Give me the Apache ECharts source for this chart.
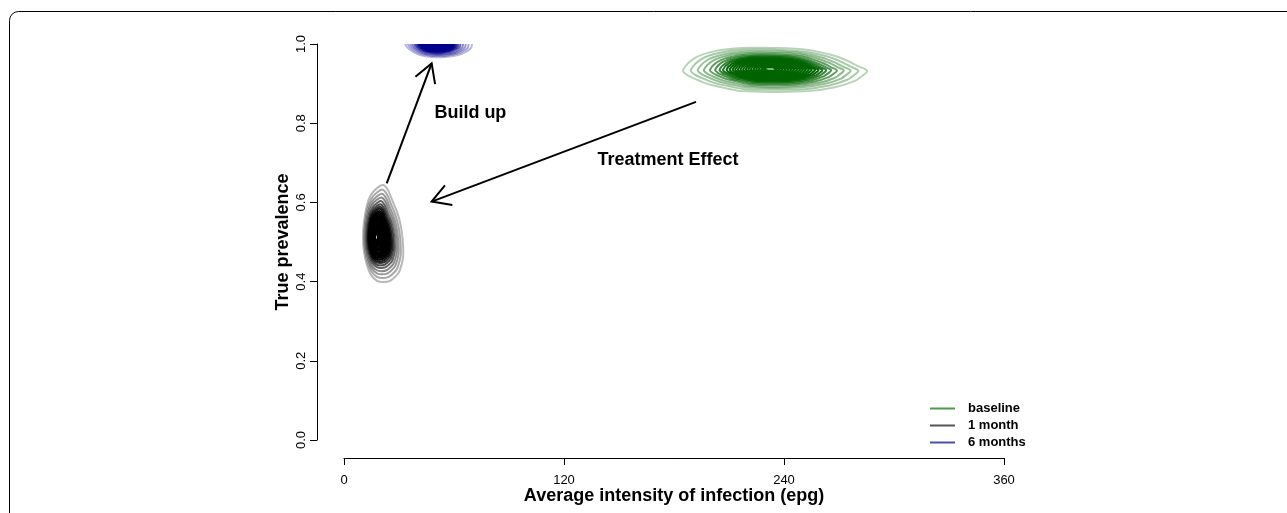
<!DOCTYPE html>
<html><head><meta charset="utf-8">
<script src="https://cdn.jsdelivr.net/npm/echarts@6/dist/echarts.min.js"></script>
<style>html,body{margin:0;padding:0;background:#fff}#c{width:1287px;height:513px}</style>
</head><body><div id="c"></div>
<script>
// ---- data ----
const xTicks = [0, 120, 240, 360];
const yTicks = [0, 0.2, 0.4, 0.6, 0.8, 1.0];
const groupNames = ['baseline', '1 month', '6 months'];
const groupColors = ['#006400', '#000000', '#00008b'];
const legendColors = ['#4d9a4d', '#555555', '#4c4cb0'];

// outermost contour of each density, and its mode
const baselineCenter = [232.4, 0.937];
const baselineOutline = [[184.9,0.934],[191.5,0.965],[202.4,0.982],[217.1,0.990],[235.1,0.990],[253.1,0.985],[266.2,0.972],[274.9,0.957],[280.4,0.944],[285.3,0.932],[282.5,0.919],[278.7,0.907],[267.8,0.891],[253.1,0.881],[235.1,0.879],[217.1,0.881],[207.8,0.889],[198.5,0.899],[191.5,0.912],[187.1,0.922]];
const month1Center = [17.5, 0.513];
const month1Outline = [[21.4,0.644],[24.0,0.631],[26.7,0.601],[28.9,0.576],[30.5,0.551],[31.6,0.523],[32.2,0.492],[32.2,0.460],[30.5,0.429],[28.9,0.417],[25.1,0.402],[21.3,0.399],[18.0,0.402],[14.7,0.417],[12.5,0.442],[10.9,0.475],[10.4,0.510],[10.9,0.551],[12.5,0.593],[14.7,0.619],[18.0,0.636]];
const month6Center = [49.6, 1.0];
const month6Outline = [[33.3,1.002],[34.4,0.992],[37.1,0.982],[41.5,0.972],[48.0,0.967],[55.1,0.967],[62.2,0.972],[66.5,0.980],[69.3,0.990],[69.8,1.0],[69.8,1.015],[52.4,1.02],[33.3,1.015]];
// relative size of each contour level (outer -> inner)
const levelScale = [1.0,0.91,0.83,0.76,0.69,0.63,0.58,0.54,0.50,0.465,0.43,0.40,0.37,0.34,0.31,0.28,0.25,0.22,0.19,0.16,0.13,0.10,0.07];

// arrows and annotation text
const arrowFrom = [[23.3,0.648],[192.0,0.854]];
const arrowTo = [[47.8,0.951],[47.8,0.602]];
const noteText = ['Build up', 'Treatment Effect'];
const notePos = [[49.3,0.825],[138.3,0.707]];

const FONT = '"Liberation Sans", Arial, Helvetica, sans-serif';

function hexToRgba(hex, a) {
  const n = parseInt(hex.slice(1), 16);
  return 'rgba(' + ((n >> 16) & 255) + ',' + ((n >> 8) & 255) + ',' + (n & 255) + ',' + a.toFixed(3) + ')';
}

function contourSeries(center, outline, color) {
  return {
    type: 'custom', coordinateSystem: 'cartesian2d', clip: true, silent: true,
    data: levelScale.map((s, i) => [center[0], center[1], s, i]),
    encode: { x: 0, y: 1 },
    renderItem: function (params, api) {
      const s = api.value(2), i = api.value(3);
      const pts = outline.map(p => api.coord([center[0] + s * (p[0] - center[0]), center[1] + s * (p[1] - center[1])]));
      const a = i < 4 ? 0.28 + 0.06 * i : Math.min(1, 0.62 + 0.09 * (i - 4));
      return { type: 'polygon', shape: { points: pts, smooth: 0.35 },
        style: { fill: 'none', stroke: hexToRgba(color, a), lineWidth: 2 } };
    }
  };
}

const chart = echarts.init(document.getElementById('c'), null, { renderer: 'canvas' });
const option = {
  animation: false,
  backgroundColor: '#fff',
  grid: { left: 344, right: 283, top: 44, bottom: 73, containLabel: false, outerBoundsMode: 'none' },
  xAxis: {
    type: 'value', min: xTicks[0], max: xTicks[xTicks.length - 1], interval: 120, offset: 18,
    axisLine: { show: true, onZero: false, lineStyle: { color: '#000', width: 1 } },
    axisTick: { show: true, length: 7, lineStyle: { color: '#000' } },
    axisLabel: { color: '#000', fontSize: 13, margin: 16, fontFamily: FONT, showMinLabel: true, showMaxLabel: true },
    splitLine: { show: false },
    name: 'Average intensity of infection (epg)', nameLocation: 'middle', nameGap: 29, nameMoveOverlap: false,
    nameTextStyle: { fontWeight: 'bold', fontSize: 18, color: '#000', fontFamily: FONT }
  },
  yAxis: {
    type: 'value', min: yTicks[0], max: yTicks[yTicks.length - 1], interval: 0.2, offset: 27,
    axisLine: { show: true, onZero: false, lineStyle: { color: '#000', width: 1 } },
    axisTick: { show: true, length: 7, lineStyle: { color: '#000' } },
    axisLabel: { color: '#000', fontSize: 13, margin: 9, rotate: 90, fontFamily: FONT,
      formatter: v => v.toFixed(1), showMinLabel: true, showMaxLabel: true },
    splitLine: { show: false },
    name: 'True prevalence', nameLocation: 'middle', nameGap: 25, nameMoveOverlap: false,
    nameTextStyle: { fontWeight: 'bold', fontSize: 18, color: '#000', fontFamily: FONT }
  },
  legend: {
    orient: 'vertical', left: 930, top: 402, padding: 0, itemGap: 4,
    itemWidth: 25, itemHeight: 2, icon: 'rect',
    textStyle: { fontSize: 13, fontWeight: 'bold', color: '#000', fontFamily: FONT, padding: [0, 0, 0, 8] },
    data: groupNames
  },
  graphic: [{
    type: 'rect', silent: true,
    shape: { x: 9.5, y: 11.5, width: 1400, height: 700, r: 9 },
    style: { fill: 'none', stroke: '#000', lineWidth: 1 }
  }],
  series: [
    contourSeries(baselineCenter, baselineOutline, groupColors[0]),
    contourSeries(month1Center, month1Outline, groupColors[1]),
    contourSeries(month6Center, month6Outline, groupColors[2]),
    { name: groupNames[0], type: 'line', data: [], color: legendColors[0] },
    { name: groupNames[1], type: 'line', data: [], color: legendColors[1] },
    { name: groupNames[2], type: 'line', data: [], color: legendColors[2] },
    {
      type: 'custom', coordinateSystem: 'cartesian2d', clip: false, silent: true,
      data: arrowFrom.map((p, i) => [p[0], p[1], arrowTo[i][0], arrowTo[i][1]]),
      encode: { x: [0, 2], y: [1, 3] },
      renderItem: function (params, api) {
        const a = api.coord([api.value(0), api.value(1)]);
        const b = api.coord([api.value(2), api.value(3)]);
        const ang = Math.atan2(a[1] - b[1], a[0] - b[0]);
        const L = 21, h = Math.PI / 6;
        const p1 = [b[0] + L * Math.cos(ang + h), b[1] + L * Math.sin(ang + h)];
        const p2 = [b[0] + L * Math.cos(ang - h), b[1] + L * Math.sin(ang - h)];
        const st = { stroke: '#000', lineWidth: 2, fill: 'none' };
        return { type: 'group', children: [
          { type: 'line', shape: { x1: a[0], y1: a[1], x2: b[0], y2: b[1] }, style: st },
          { type: 'polyline', shape: { points: [p1, b, p2] }, style: st }
        ] };
      }
    },
    {
      type: 'custom', coordinateSystem: 'cartesian2d', clip: false, silent: true,
      data: notePos.map((p, i) => [p[0], p[1], i]),
      encode: { x: 0, y: 1 },
      renderItem: function (params, api) {
        const c = api.coord([api.value(0), api.value(1)]);
        return { type: 'text', x: c[0], y: c[1],
          style: { text: noteText[api.value(2)], fill: '#000', font: 'bold 18px ' + FONT,
            textAlign: 'left', textVerticalAlign: 'middle' } };
      }
    }
  ]
};
chart.setOption(option);
</script>
</body></html>
